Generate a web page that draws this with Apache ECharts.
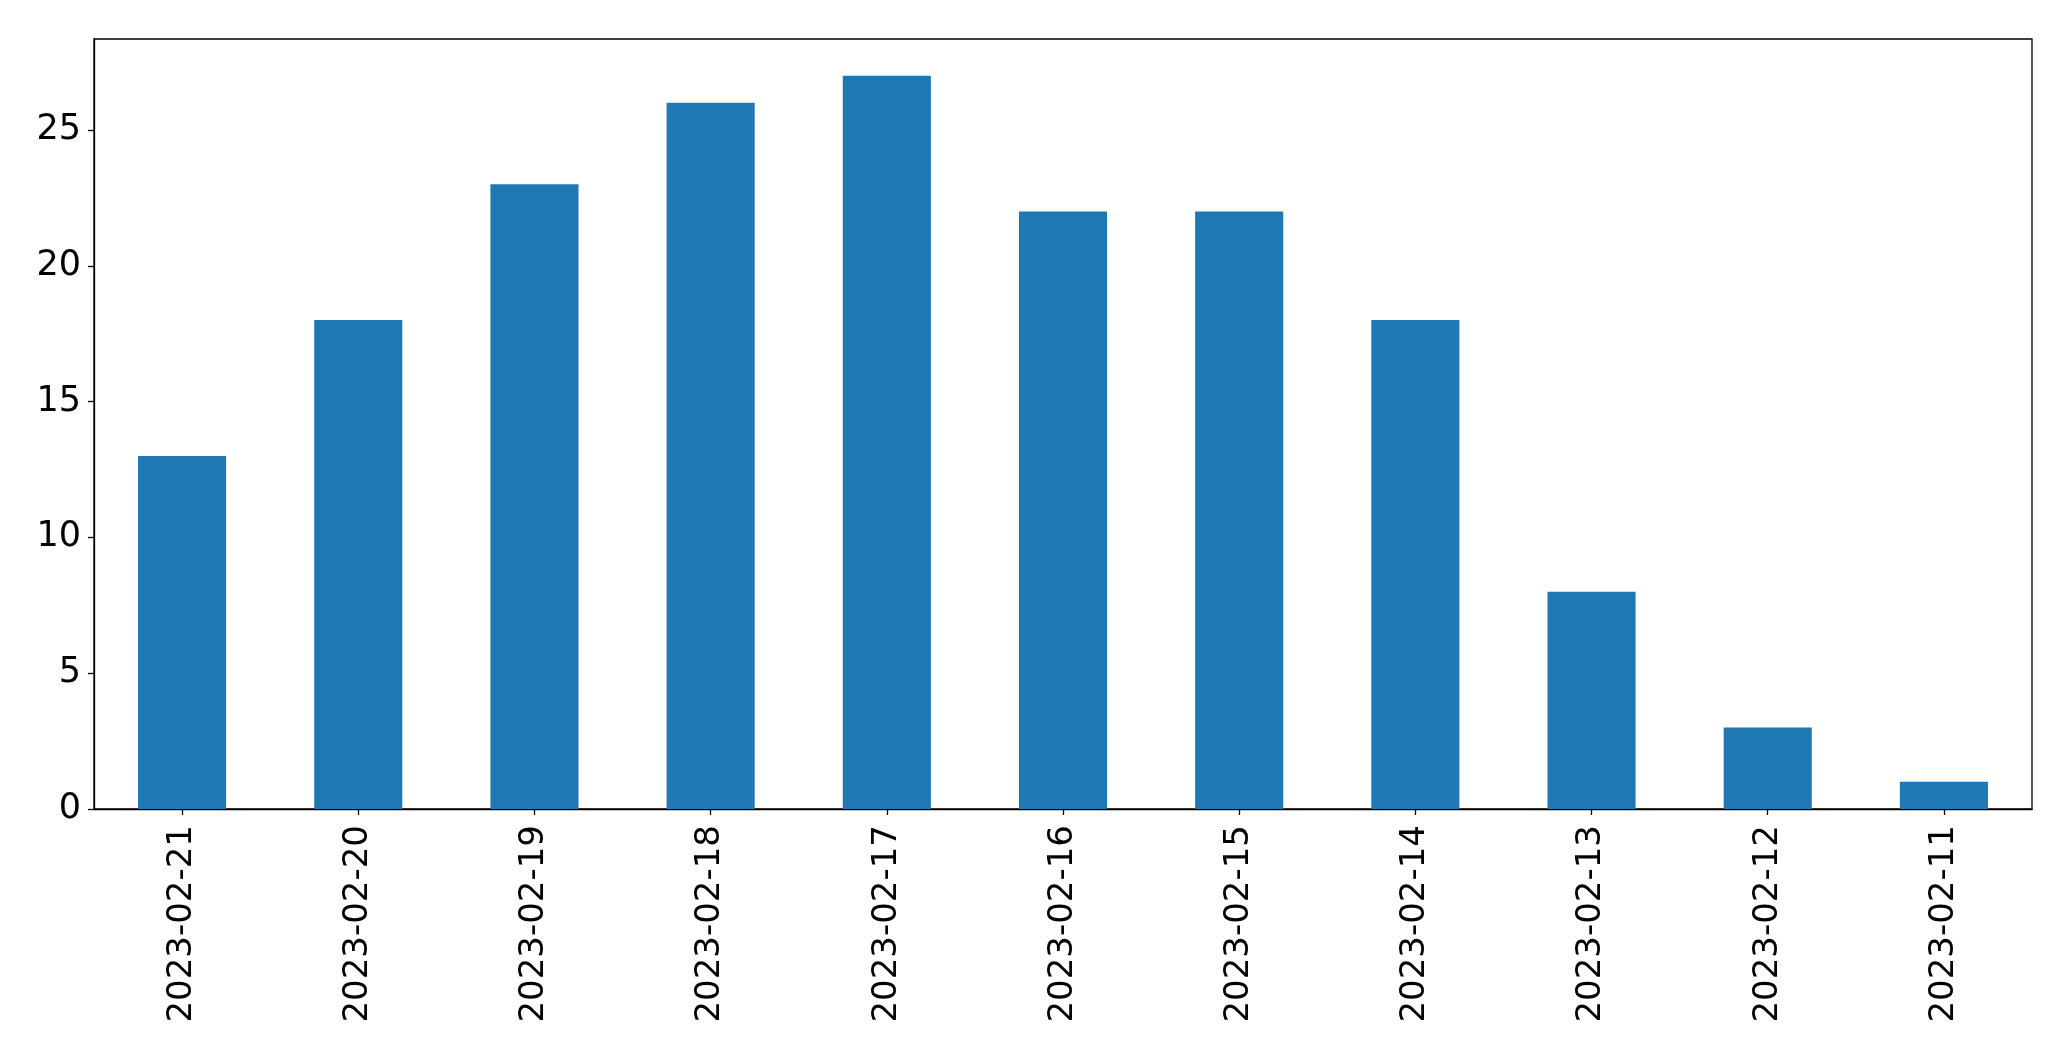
<!DOCTYPE html>
<html>
<head>
<meta charset="utf-8">
<script src="https://cdn.jsdelivr.net/npm/echarts@6/dist/echarts.min.js"></script>
<style>html,body{margin:0;padding:0;background:#fff}#c{width:2071px;height:1061px}</style>
</head>
<body>
<div id="c"></div>
<script>
const categories = ['2023-02-21','2023-02-20','2023-02-19','2023-02-18','2023-02-17','2023-02-16','2023-02-15','2023-02-14','2023-02-13','2023-02-12','2023-02-11'];
const values = [13, 18, 23, 26, 27, 22, 22, 18, 8, 3, 1];
const yMax = 28.35;

const chart = echarts.init(document.getElementById('c'), null, {renderer: 'canvas'});
chart.setOption({
  animation: false,
  backgroundColor: '#ffffff',
  textStyle: {fontFamily: 'DejaVu Sans'},
  grid: {left: 94, right: 39, top: 39, bottom: 252, containLabel: false, outerBoundsMode: 'none',
    show: true, borderColor: '#000', borderWidth: 1.3, backgroundColor: 'transparent'},
  xAxis: {
    type: 'category', data: categories, boundaryGap: true,
    axisLine: {show: true, lineStyle: {color: '#000', width: 1.3}},
    axisTick: {show: true, alignWithLabel: true, length: 6, lineStyle: {color: '#000', width: 1.3}},
    axisLabel: {rotate: 90, margin: 16, color: '#000', fontSize: 34, fontFamily: 'DejaVu Sans', interval: 0},
    splitLine: {show: false}
  },
  yAxis: {
    type: 'value', min: 0, max: yMax, interval: 5,
    axisLine: {show: true, lineStyle: {color: '#000', width: 1.3}},
    axisTick: {show: true, length: 6, lineStyle: {color: '#000', width: 1.3}},
    axisLabel: {margin: 13, color: '#000', fontSize: 35, fontFamily: 'DejaVu Sans', showMaxLabel: false},
    splitLine: {show: false}
  },
  series: [{type: 'bar', data: values, barWidth: '50%', itemStyle: {color: '#1f77b4'}}]
});
</script>
</body>
</html>
